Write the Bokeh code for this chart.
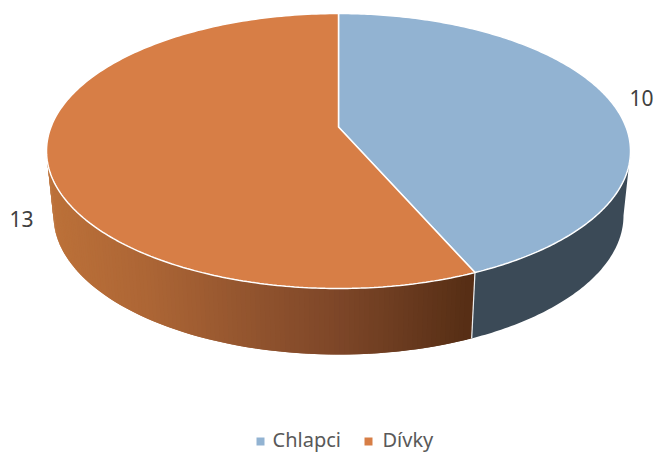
import numpy as np
from bokeh.plotting import figure
from bokeh.embed import file_html
from bokeh.resources import INLINE
from bokeh.models import Range1d
from bokeh.core.properties import value

categories = ["Chlapci", "Dívky"]
values = [10, 13]
top_colors = ["#92B3D2", "#D77E46"]

FONT = "Noto Sans"
# Layout of the tilted pie, in page pixels
CX, CY, RX, RY = 338.0, 150.5, 292.0, 137.5
BCY, BRX, BRY = 215.0, 285.0, 139.0
A = 24.0 / 137.0  # perspective shift of the pie's centre


def lerp_hex(x, xs, cols):
    rgb = np.array([[int(c[i:i + 2], 16) for i in (1, 3, 5)] for c in cols], float)
    return "#%02x%02x%02x" % tuple(int(round(np.interp(x, xs, rgb[:, k]))) for k in range(3))


def persp(theta):
    """Circle angle (clockwise from 12 o'clock) -> ellipse angle."""
    u, v = np.sin(theta), np.cos(theta)
    d = 1 + A * v
    return np.arctan2(u * np.sqrt(1 - A * A) / d, (v + A) / d)


def top_pt(t):
    return CX + RX * np.sin(t), CY - RY * np.cos(t)


def bot_pt(t):
    return CX + BRX * np.sin(t), BCY - BRY * np.cos(t)


p = figure(width=654, height=452, output_backend="svg", toolbar_location=None,
           x_range=Range1d(0, 654), y_range=Range1d(452, 0), min_border=0,
           x_axis_type=None, y_axis_type=None, outline_line_color=None,
           background_fill_color="white", border_fill_color="white")
p.grid.visible = False

fracs = np.cumsum([0] + values) / sum(values)
angles = fracs * 2 * np.pi
junction = persp(angles[1])  # front seam between the slices

# Side wall: overlapping quads painted in order, orange with gradient, blue flat
grad_x = [47, 150, 240, 340, 400, 475]
grad_c = ["#BC7139", "#AC6535", "#95562F", "#7D4628", "#6C3C20", "#552D14"]
ts_o = np.linspace(junction, np.pi * 1.5, 120)
xs, ys, cs = [], [], []
for a, b in zip(ts_o[:-1], ts_o[np.r_[2:len(ts_o), len(ts_o) - 1]]):
    ax, ay = top_pt(a); bx, by = top_pt(b)
    cx, cy = bot_pt(b); dx, dy = bot_pt(a)
    xs.append([ax, bx, cx, dx]); ys.append([ay, by, cy, dy])
    cs.append(lerp_hex((ax + bx) / 2, grad_x, grad_c))
p.patches(xs[::-1], ys[::-1], fill_color=cs[::-1], line_color=None)

ts_b = np.linspace(np.pi / 2, junction, 80)
xb = list(top_pt(ts_b)[0]) + list(bot_pt(ts_b)[0][::-1])
yb = list(top_pt(ts_b)[1]) + list(bot_pt(ts_b)[1][::-1])
p.patch(xb, yb, fill_color="#3B4A57", line_color=None)

# Seam on the side wall
jx0, jy0 = top_pt(junction)
jx1, jy1 = bot_pt(junction)
p.line([jx0, jx1], [jy0, jy1], line_color="#EDEFF0", line_width=1.2)

# Top face
apex = (CX, CY - A * RY)
for i, col in enumerate(top_colors):
    start, end = persp(angles[i]), persp(angles[i + 1])
    if end <= start:
        end += 2 * np.pi
    t = np.linspace(start, end, 240)
    x, y = top_pt(t)
    p.patch([apex[0]] + list(x), [apex[1]] + list(y), fill_color=col,
            line_color="white", line_width=1.5)

# Data labels
p.text([641, 21], [97, 218], text=[str(v) for v in values], text_font=value(FONT),
       text_font_size="21px", text_color="#404040", text_align="center",
       text_baseline="middle")

# Legend
p.rect([260, 368], [441, 441], width=8, height=8, fill_color=top_colors, line_color=None)
p.text([272, 382], [438.5, 438.5], text=categories, text_font=value(FONT),
       text_font_size="20px", text_color="#595959", text_align="left",
       text_baseline="middle")

open("out.html", "w").write(file_html(p, INLINE))
